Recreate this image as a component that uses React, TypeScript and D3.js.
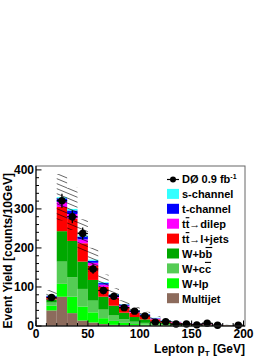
import * as d3 from "d3";

// lepton pT bins (low edges, GeV), 10 GeV wide
const binLow = [10, 20, 30, 40, 50, 60, 70, 80, 90, 100, 110, 120, 130, 140, 150, 160, 170, 180, 190];

// stacked backgrounds, bottom to top
const multijet = [40, 75, 33, 14, 9, 5, 3, 2, 1.5, 1, 1, 0.5, 0.5, 0.3, 0.3, 0.2, 0.2, 0.1, 0.1];
const wlp = [12, 33, 42, 36, 26, 15, 10, 6, 3.5, 3, 2, 1.5, 1, 0.7, 0.5, 0.4, 0.3, 0.3, 0.2];
const wcc = [8, 57, 50, 45, 30, 22, 14, 9, 6, 4, 3, 2, 1.5, 1, 0.7, 0.6, 0.5, 0.4, 0.3];
const wbb = [8, 78, 93, 70, 53, 33, 25, 17, 12, 9, 5, 4, 3, 2, 1.5, 1.1, 0.8, 0.6, 0.5];
const ttlj = [5, 62, 57, 47, 37, 25, 20, 14, 11, 9, 6, 4, 3, 2.5, 2, 1.4, 1, 0.8, 0.6];
const ttdl = [2, 13, 12, 10, 7, 6, 5, 4, 3, 2, 2, 1, 1, 0.5, 0.5, 0.3, 0.2, 0.2, 0.2];
const tch = [2, 9, 9, 7, 5, 4, 3, 3, 3, 2, 1, 1, 0.5, 0.5, 0.3, 0.3, 0.2, 0.1, 0.1];
const sch = [1, 3, 4, 3, 3, 2, 2, 1, 1, 1, 1, 1, 0.5, 0.5, 0.2, 0.2, 0.2, 0.1, 0.1];

// observed events
const observed = [73, 321, 280, 237, 146, 91, 76, 47, 38, 26, 10, 11, 5, 5, 3, 7, 2, 0, 2];

const bandFrac = 0.18;

const xTicks = [0, 50, 100, 150, 200];
const yTicks = [0, 100, 200, 300, 400];

const layers = [
  { key: "multijet", values: multijet, color: "#8c6b5c" },
  { key: "wlp", values: wlp, color: "#00ff00" },
  { key: "wcc", values: wcc, color: "#55cc55" },
  { key: "wbb", values: wbb, color: "#00a800" },
  { key: "ttlj", values: ttlj, color: "#ff0000" },
  { key: "ttdl", values: ttdl, color: "#ff00ff" },
  { key: "tch", values: tch, color: "#0000ff" },
  { key: "sch", values: sch, color: "#33ffff" },
];

const font = "'Liberation Sans', Arial, Helvetica, sans-serif";

export default function App() {
  const left = 36;
  const right = 245;
  const top = 166;
  const bottom = 326;

  const x = d3.scaleLinear().domain([0, 200]).range([left, 243.5]);
  const y = d3.scaleLinear().domain([0, 410]).range([bottom, top]);

  const rows = binLow.map((lo, i) => {
    const r: any = { lo };
    layers.forEach((l) => (r[l.key] = l.values[i]));
    return r;
  });
  const stacked = d3.stack().keys(layers.map((l) => l.key))(rows);
  const totals = rows.map((r) => layers.reduce((s, l) => s + r[l.key], 0));

  // hatched uncertainty band, one rectangle per bin
  let band = "";
  binLow.forEach((lo, i) => {
    const t = totals[i];
    const x0 = x(lo);
    const x1 = x(lo + 10);
    band += `M${x0},${y(t * (1 + bandFrac))}H${x1}V${y(t * (1 - bandFrac))}H${x0}Z`;
  });

  const yMinor = d3.range(0, 410, 20);
  const xMinor = d3.range(0, 201, 10);

  const legendItems = [
    { label: "s-channel", color: "#33ffff" },
    { label: "t-channel", color: "#0000ff" },
    { label: "dilep", color: "#ff00ff", tt: true },
    { label: "l+jets", color: "#ff0000", tt: true },
    { label: "bb", color: "#00a800", w: true },
    { label: "cc", color: "#55cc55", w: true },
    { label: "W+lp", color: "#00ff00" },
    { label: "Multijet", color: "#8c6b5c" },
  ];
  const legX = 167;
  const legY0 = 179.5;
  const legStep = 14.9;

  return (
    <div style={{ position: "fixed", left: 0, top: 0 }}>
      <svg width={279} height={361} style={{ display: "block", background: "#fff" }} fontFamily={font}>
        <defs>
          <pattern id="hatch" patternUnits="userSpaceOnUse" width={12} height={5}>
            <path d="M-12,-5L24,10M-12,0L12,10M0,-5L24,5" stroke="#000" strokeWidth={0.6} />
          </pattern>
        </defs>

        {stacked.map((s, li) => (
          <g key={s.key} fill={layers[li].color}>
            {s.map((d, i) => (
              <rect
                key={i}
                x={x(binLow[i])}
                width={x(binLow[i] + 10) - x(binLow[i])}
                y={y(d[1])}
                height={Math.max(0, y(d[0]) - y(d[1]))}
              />
            ))}
          </g>
        ))}

        <path d={band} fill="url(#hatch)" />

        {/* data */}
        <g stroke="#000" strokeWidth={1.3}>
          {observed.map((n, i) =>
            n > 0 ? (
              <g key={i}>
                <line x1={x(binLow[i] + 5)} x2={x(binLow[i] + 5)} y1={y(n + Math.sqrt(n))} y2={y(Math.max(0, n - Math.sqrt(n)))} />
                <line x1={x(binLow[i])} x2={x(binLow[i] + 10)} y1={y(n)} y2={y(n)} />
                <circle cx={x(binLow[i] + 5)} cy={y(n)} r={3.7} fill="#000" stroke="none" />
              </g>
            ) : null
          )}
        </g>

        {/* frame */}
        <rect x={left} y={top} width={right - left} height={bottom - top} fill="none" stroke="#666" strokeWidth={1} />
        <line x1={left} x2={left} y1={top} y2={bottom} stroke="#000" />
        <line x1={left} x2={right} y1={bottom} y2={bottom} stroke="#000" />

        {/* ticks */}
        <g stroke="#000" strokeWidth={1}>
          {yMinor.map((v) => (
            <line key={v} x1={left} x2={left + (v % 100 === 0 ? 5.5 : 3)} y1={y(v)} y2={y(v)} />
          ))}
          {xMinor.map((v) => (
            <line key={v} x1={x(v)} x2={x(v)} y1={bottom} y2={bottom - (v % 50 === 0 ? 5.5 : 3)} />
          ))}
        </g>
        <g fontSize={12} fontWeight="bold" fill="#000">
          {yTicks.map((v) => (
            <text key={v} x={left - 2} y={y(v)} dy="0.36em" textAnchor="end">
              {v}
            </text>
          ))}
          {xTicks.map((v) => (
            <text key={v} x={x(v)} y={337.5} textAnchor="middle">
              {v}
            </text>
          ))}
          <text x={right} y={353} textAnchor="end">
            Lepton p<tspan fontSize={8} dy={3}>T</tspan>
            <tspan dy={-3}> [GeV]</tspan>
          </text>
          <text transform={`translate(12,173) rotate(-90)`} textAnchor="end">
            Event Yield [counts/10GeV]
          </text>
        </g>

        {/* legend */}
        <g fontSize={11} fontWeight="bold" fill="#000">
          <line x1={legX} x2={legX + 12} y1={legY0} y2={legY0} stroke="#000" strokeWidth={1.2} />
          <circle cx={legX + 6} cy={legY0} r={3} fill="#000" />
          <text x={legX + 15} y={legY0} dy="0.36em">
            DØ 0.9 fb<tspan fontSize={7} dy={-4}>-1</tspan>
          </text>
          {legendItems.map((it, i) => {
            const cy = legY0 + legStep * (i + 1);
            return (
              <g key={i}>
                <rect x={legX} y={cy - 5.5} width={12} height={10} fill={it.color} />
                <text x={legX + 15} y={cy} dy="0.36em">
                  {it.tt ? (
                    <>
                      t<tspan textDecoration="overline">t</tspan>→{it.label}
                    </>
                  ) : it.w ? (
                    <>
                      W+{it.label[0]}
                      <tspan textDecoration="overline">{it.label[1]}</tspan>
                    </>
                  ) : (
                    it.label
                  )}
                </text>
              </g>
            );
          })}
        </g>
      </svg>
    </div>
  );
}
